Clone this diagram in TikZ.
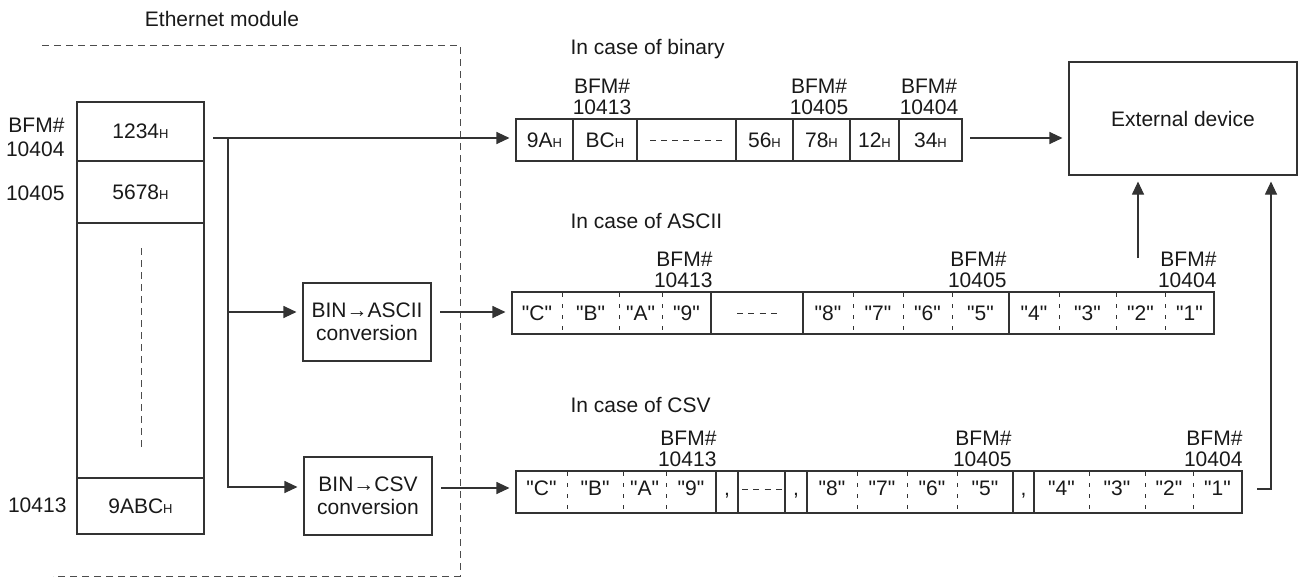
\documentclass[tikz,border=0pt]{standalone}
\usepackage{fontspec}
\setmainfont{Liberation Sans}
\usetikzlibrary{arrows.meta}
\newcommand{\hx}{{\fontsize{13pt}{13pt}\selectfont H}}
\newcommand{\qq}[1]{\textquotedbl#1\textquotedbl}
\begin{document}
\begin{tikzpicture}[x=1pt,y=-1pt,
  line width=1.1pt,
  txt/.style={font=\fontsize{21pt}{21pt}\selectfont, inner sep=0pt, text=black!90},
  lbl/.style={txt, align=center},
  cellbox/.style={draw=black!80, line width=1.1pt, inner sep=0pt, font=\fontsize{21pt}{21pt}\selectfont, text=black!90},
  arr/.style={draw=black!80, line width=1.1pt, -{Triangle[length=13pt,width=12pt]}, shorten >=6pt},
  modash/.style={draw=black!70, dash pattern=on 7pt off 5pt, line width=1pt},
  soliddiv/.style={draw=black!80, line width=1.1pt},
  dashdiv/.style={draw=black!80, line width=0.8pt, dash pattern=on 4pt off 7pt},
  ellip/.style={draw=black!80, line width=0.9pt}
]
\useasboundingbox (0,0) rectangle (1298,579);

% Ethernet module (dashed frame)
\draw[modash] (42,45) -- (460,45) -- (460,576) -- (53,576);
\node[txt] (eth) at (222,19) {Ethernet module};

% buffer memory stack
\node[cellbox, minimum width=127pt, minimum height=59pt] (m1) at (140.5,131.5) {1234\hx};
\node[cellbox, minimum width=127pt, minimum height=62pt] (m2) at (140.5,192) {5678\hx};
\node[cellbox, minimum width=127pt, minimum height=255pt] (m3) at (140.5,350.5) {};
\node[cellbox, minimum width=127pt, minimum height=56pt] (m4) at (140.5,506) {9ABC\hx};
\draw[modash] (141,248) -- (141,449);

\node[txt, align=right, anchor=east] (l1) at (65,137) {BFM\#\\[3pt]10404};
\node[txt, anchor=east] (l2) at (65,193) {10405};
\node[txt, anchor=east] (l3) at (67,505) {10413};

% conversion boxes
\node[cellbox, align=center, minimum width=128pt, minimum height=78pt, font=\fontsize{21pt}{23.5pt}\selectfont] (conv1) at (367,322) {BIN→ASCII\\conversion};
\node[cellbox, align=center, minimum width=128pt, minimum height=78pt, font=\fontsize{21pt}{23.5pt}\selectfont] (conv2) at (368,496) {BIN→CSV\\conversion};

% external device
\node[cellbox, minimum width=228pt, minimum height=113pt] (ext) at (1183,118.5) {External device};

% ---------- binary ----------
\node[txt, anchor=west] (hb) at (570,49) {In case of binary};
\node[cellbox, minimum width=446pt, minimum height=42pt] (brow) at (739,140) {};
\foreach \x in {573,637,736,793,850,899} \draw[soliddiv] (\x,119) -- (\x,161);
\foreach \x/\t [count=\i] in {544.5/9A, 605/BC, 764.5/56, 821.5/78, 874.5/12, 930.5/34}
  \node[txt, anchor=base] (b\i) at (\x,147.5) {\t\hx};
\draw[ellip, dash pattern=on 6pt off 5pt] (650,140) -- (723,140);
\node[lbl] (bl1) at (602,97) {BFM\#\\10413};
\node[lbl] (bl2) at (819,97) {BFM\#\\10405};
\node[lbl] (bl3) at (929,97) {BFM\#\\10404};

% ---------- ASCII ----------
\node[txt, anchor=west] (ha) at (570,221) {In case of ASCII};
\node[cellbox, minimum width=702pt, minimum height=42pt] (arow) at (863,313) {};
\foreach \x in {711,803,1009} \draw[soliddiv] (\x,292) -- (\x,334);
\foreach \x in {562,619,662,853,903,952,1059,1116,1165} \draw[dashdiv] (\x,293) -- (\x,334);
\foreach \x/\t [count=\i] in {537/C, 590.5/B, 640.5/A, 686.5/9, 828/8, 878/7, 927.5/6, 980.5/5, 1034/4, 1087.5/3, 1140.5/2, 1189.5/1}
  \node[txt, anchor=base] (a\i) at (\x,320.5) {\qq{\t}};
\draw[ellip, dash pattern=on 6pt off 5.3pt] (737,313) -- (777,313);
\node[txt, align=right, anchor=east] (al1) at (713,270) {BFM\#\\10413};
\node[txt, align=right, anchor=east] (al2) at (1007,270) {BFM\#\\10405};
\node[txt, align=right, anchor=east] (al3) at (1217,270) {BFM\#\\10404};

% ---------- CSV ----------
\node[txt, anchor=west] (hc) at (570,405) {In case of CSV};
\node[cellbox, minimum width=726pt, minimum height=42pt] (crow) at (879,492) {};
\foreach \x in {716,738,785,807,1013,1034} \draw[soliddiv] (\x,471) -- (\x,513);
\foreach \x in {567,623,666,857,907,957,1089,1145,1193} \draw[dashdiv] (\x,472) -- (\x,513);
\foreach \x/\t [count=\i] in {541.5/C, 595/B, 644.5/A, 691/9, 832/8, 882/7, 932/6, 985/5, 1061.5/4, 1117/3, 1169/2, 1217.5/1}
  \node[txt, anchor=base] (c\i) at (\x,495.5) {\qq{\t}};
\foreach \x [count=\i] in {727, 796, 1023.5}
  \node[txt, anchor=base] (cm\i) at (\x,495.5) {,};
\draw[ellip, dash pattern=on 6pt off 5.3pt] (742,489) -- (783,489);
\node[txt, align=right, anchor=east] (cl1) at (717,448.5) {BFM\#\\10413};
\node[txt, align=right, anchor=east] (cl2) at (1012,448.5) {BFM\#\\10405};
\node[txt, align=right, anchor=east] (cl3) at (1243,448.5) {BFM\#\\10404};

% ---------- connectors ----------
\coordinate (s0) at (213,138);
\coordinate (br) at (228,138);
\draw[arr] (s0) -- (brow.west |- s0);
\coordinate (ya) at (0,312);
\coordinate (yc) at (0,487);
\draw[arr] (br) |- (conv1.west |- ya);
\draw[arr] (br) |- (conv2.west |- yc);
\coordinate (c1o) at (440,312);
\draw[arr] (c1o) -- (arow.west |- c1o);
\coordinate (c2o) at (441,488);
\draw[arr] (c2o) -- (crow.west |- c2o);
\coordinate (bo) at (970,138);
\draw[arr] (bo) -- (ext.west |- bo);
\coordinate (au) at (1138,258);
\draw[arr] (au) -- (ext.south -| au);
\coordinate (co) at (1257,489);
\coordinate (cx) at (1271,0);
\draw[arr] (co) -| (ext.south -| cx);
\end{tikzpicture}
\end{document}
